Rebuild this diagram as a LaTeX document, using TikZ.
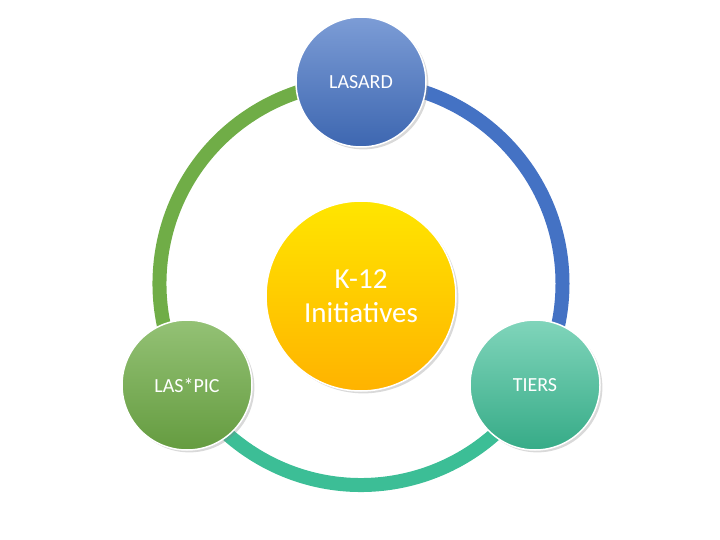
\documentclass[tikz,border=0pt]{standalone}
\usepackage{fontspec}
\setmainfont{Carlito}
\usetikzlibrary{shadows}
\definecolor{ringblue}{RGB}{68,114,196}
\definecolor{ringteal}{RGB}{60,190,150}
\definecolor{ringgreen}{RGB}{112,173,71}
\begin{document}
\begin{tikzpicture}[x=1pt,y=-1pt,
  sat node/.style={circle,draw=white,line width=1.5pt,minimum size=130pt,text=white,font=\fontsize{20}{24}\selectfont,drop shadow={opacity=0.3}},
  ring/.style={line width=14pt}]
\useasboundingbox (0,0) rectangle (720,540);
\coordinate (c) at (361,283.5);
% ring arcs
\draw[ring,ringblue] (c) ++(90:-201.5) arc[start angle=-90,end angle=30,radius=201.5];
\draw[ring,ringteal] (c) ++(30:201.5) arc[start angle=30,end angle=150,radius=201.5];
\draw[ring,ringgreen] (c) ++(150:201.5) arc[start angle=150,end angle=270,radius=201.5];
% nodes
\node[circle,minimum size=190pt,draw=white,line width=1.5pt,top color=yellow!80!orange,bottom color=orange!60!yellow,text=white,align=center,font=\fontsize{29}{34}\selectfont,drop shadow={opacity=0.3}] (k12) at (361,296) {K-12\\Initiatives};
\node[sat node,top color=ringblue!70!white,bottom color=ringblue!90!black] (lasard) at (361,82) {LASARD};
\node[sat node,top color=ringgreen!75!white,bottom color=ringgreen!90!black] (laspic) at (187,385) {LAS*PIC};
\node[sat node,top color=ringteal!65!white,bottom color=ringteal!90!black] (tiers) at (535,385) {TIERS};
\end{tikzpicture}
\end{document}
